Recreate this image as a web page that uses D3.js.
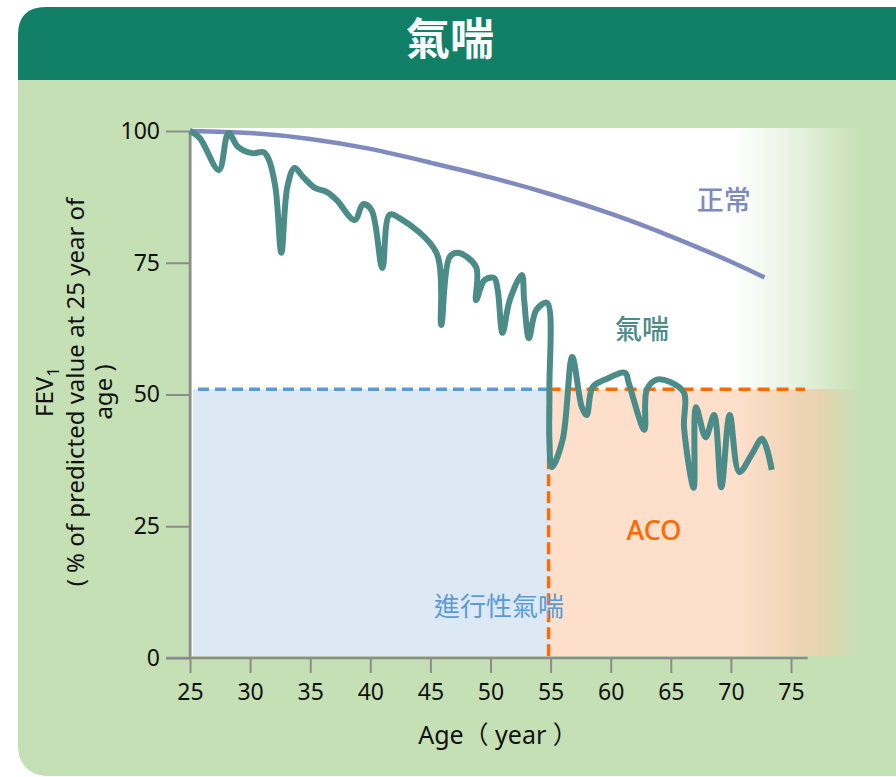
<!DOCTYPE html>
<html>
<head>
<meta charset="utf-8">
<script src="https://cdn.jsdelivr.net/npm/d3@7"></script>
<style>
  body { margin: 0; background: #ffffff; }
  svg text { font-family: "Noto Sans", "Noto Sans CJK TC", sans-serif; }
</style>
</head>
<body>
<div id="chart"></div>
<script>
// Chart data
var chartTitle = "氣喘";
var xTicks = [25, 30, 35, 40, 45, 50, 55, 60, 65, 70, 75];
var yTicks = [0, 25, 50, 75, 100];

// Normal decline of FEV1
var normalAge = [25, 30, 35, 40, 45, 50, 55, 60, 65, 70, 72.8];
var normalFev = [100, 99.6, 98.5, 96.6, 94.0, 91.2, 88.0, 84.3, 80.0, 75.2, 72.2];

// Asthma course of FEV1
var asthmaAge = [25.0, 25.8, 27.4, 28.2, 29.0, 30.2, 31.1, 31.5, 32.1, 32.6, 33.1, 33.7, 34.4, 35.4, 36.4, 37.2, 38.7, 39.4,
                 40.1, 41.0, 41.6, 42.4, 45.5, 45.9, 46.6, 47.3, 48.8, 48.8, 49.5, 50.3, 50.6, 51.0, 51.6, 52.6, 52.8, 53.2,
                 53.8, 54.7, 54.9, 54.9, 55.1, 56.0, 56.8, 57.6, 58.0, 58.5, 59.6, 61.2, 61.5, 62.8, 63.0, 63.8, 64.9, 66.1,
                 66.1, 66.9, 67.1, 67.9, 68.6, 69.2, 69.9, 70.7, 71.8, 72.6, 73.4];
var asthmaFev = [100, 98.7, 92.6, 99.6, 97.0, 95.8, 96.0, 94.9, 89.4, 76.9, 89.4, 93.0, 91.3, 89.2, 88.4, 86.9, 83.1, 86.1,
                 85.0, 74.0, 84.1, 83.5, 76.9, 63.2, 76.1, 76.9, 74.2, 67.9, 71.7, 72.1, 69.8, 61.7, 67.9, 72.7, 67.9, 60.7,
                 66.0, 67.4, 50.9, 41.4, 36.2, 41.4, 57.1, 47.6, 46.1, 51.4, 52.9, 54.1, 52.2, 43.3, 50.9, 52.8, 52.4, 50.3,
                 43.8, 32.3, 47.6, 41.9, 46.1, 32.4, 46.1, 35.3, 38.9, 41.6, 35.7];

// Threshold of ACO region
var acoFev = 51;
var acoAge = 55;

// Region labels
var labelNames = ["正常", "氣喘", "ACO", "進行性氣喘"];
var labelAge = [69.4, 62.6, 63.6, 50.7];
var labelFev = [86.4, 61.9, 23.7, 9.2];
var labelColors = ["#7f8abf", "#4b8c89", "#ff6a00", "#5b9bd5"];

var svgWidth = 896;
var svgHeight = 777;

var svg = d3.select("#chart")
  .append("svg")
  .attr("width", svgWidth)
  .attr("height", svgHeight);

var defs = svg.append("defs");

// Scales
var xScale = d3.scaleLinear()
               .domain([25, 75])
               .range([190, 791]);

var yScale = d3.scaleLinear()
               .domain([0, 100])
               .range([658, 131]);

// Background panel and header
svg.append("rect")
   .attr("x", 18)
   .attr("y", 7)
   .attr("width", 920)
   .attr("height", 769)
   .attr("rx", 28)
   .attr("fill", "#c5e0b4");

svg.append("path")
   .attr("d", "M18,80 V35 Q18,7 46,7 H896 V80 Z")
   .attr("fill", "#118067");

svg.append("text")
   .attr("x", 450)
   .attr("y", 43)
   .attr("text-anchor", "middle")
   .attr("dominant-baseline", "middle")
   .attr("fill", "#ffffff")
   .style("font-family", "'Noto Sans CJK TC', sans-serif")
   .style("font-weight", 700)
   .style("font-size", "44px")
   .text(chartTitle);

// Gradients fading to the panel colour on the right
var whiteGrad = defs.append("linearGradient")
                    .attr("id", "whiteFade")
                    .attr("gradientUnits", "userSpaceOnUse")
                    .attr("x1", 735).attr("x2", 862)
                    .attr("y1", 0).attr("y2", 0);
whiteGrad.append("stop").attr("offset", 0).attr("stop-color", "#ffffff");
whiteGrad.append("stop").attr("offset", 0.5).attr("stop-color", "#e6f1df");
whiteGrad.append("stop").attr("offset", 1).attr("stop-color", "#c5e0b4");

var orangeGrad = defs.append("linearGradient")
                     .attr("id", "orangeFade")
                     .attr("gradientUnits", "userSpaceOnUse")
                     .attr("x1", 740).attr("x2", 862)
                     .attr("y1", 0).attr("y2", 0);
orangeGrad.append("stop").attr("offset", 0).attr("stop-color", "#fddfcb");
orangeGrad.append("stop").attr("offset", 0.4).attr("stop-color", "#f1d6b8");
orangeGrad.append("stop").attr("offset", 0.65).attr("stop-color", "#e6d3ae");
orangeGrad.append("stop").attr("offset", 0.85).attr("stop-color", "#d3dcb4");
orangeGrad.append("stop").attr("offset", 1).attr("stop-color", "#c5e0b4");

// Plot area
svg.append("rect")
   .attr("x", xScale(25) + 2)
   .attr("y", yScale(100) - 3)
   .attr("width", 862 - xScale(25) - 2)
   .attr("height", yScale(0) - yScale(100) + 1)
   .attr("fill", "url(#whiteFade)");

// Progressive asthma region
svg.append("rect")
   .attr("x", xScale(25) + 3)
   .attr("y", yScale(acoFev))
   .attr("width", xScale(acoAge) - xScale(25) - 3)
   .attr("height", yScale(0) - yScale(acoFev) - 2)
   .attr("fill", "#dce9f5");

// ACO region
svg.append("rect")
   .attr("x", xScale(acoAge))
   .attr("y", yScale(acoFev))
   .attr("width", 862 - xScale(acoAge))
   .attr("height", yScale(0) - yScale(acoFev) - 2)
   .attr("fill", "url(#orangeFade)");

// Dashed threshold lines
svg.append("line")
   .attr("x1", xScale(25) + 8)
   .attr("x2", xScale(acoAge))
   .attr("y1", yScale(acoFev))
   .attr("y2", yScale(acoFev))
   .attr("stroke", "#5b9bd5")
   .attr("stroke-width", 3.5)
   .attr("stroke-dasharray", "11 6");

svg.append("line")
   .attr("x1", xScale(acoAge) - 2)
   .attr("x2", xScale(75) + 14)
   .attr("y1", yScale(acoFev))
   .attr("y2", yScale(acoFev))
   .attr("stroke", "#ff6a00")
   .attr("stroke-width", 3.5)
   .attr("stroke-dasharray", "12 7");

svg.append("line")
   .attr("x1", xScale(acoAge) - 2)
   .attr("x2", xScale(acoAge) - 2)
   .attr("y1", yScale(acoFev))
   .attr("y2", yScale(0))
   .attr("stroke", "#ff6a00")
   .attr("stroke-width", 3.5)
   .attr("stroke-dasharray", "12 5");

// Axes
var xAxis = d3.axisBottom(xScale)
              .tickValues(xTicks)
              .tickSize(15)
              .tickPadding(11);

var yAxis = d3.axisLeft(yScale)
              .tickValues(yTicks)
              .tickSize(24)
              .tickPadding(6);

var xAxisGroup = svg.append("g")
                    .attr("transform", `translate(0,${yScale(0)})`)
                    .call(xAxis);

var yAxisGroup = svg.append("g")
                    .attr("transform", `translate(${xScale(25)},0)`)
                    .call(yAxis);

[xAxisGroup, yAxisGroup].forEach(function(g) {
  g.select(".domain").remove();
  g.selectAll(".tick line").attr("stroke", "#8c8c8c").attr("stroke-width", 2);
  g.selectAll(".tick text")
   .attr("fill", "#111111")
   .style("font-size", "23px")
   .style("font-family", "'Noto Sans', sans-serif");
});

// Axis lines
svg.append("line")
   .attr("x1", xScale(25) - 24)
   .attr("x2", xScale(76.4))
   .attr("y1", yScale(0))
   .attr("y2", yScale(0))
   .attr("stroke", "#8c8c8c")
   .attr("stroke-width", 2.5);

svg.append("line")
   .attr("x1", xScale(25))
   .attr("x2", xScale(25))
   .attr("y1", yScale(100))
   .attr("y2", yScale(0))
   .attr("stroke", "#8c8c8c")
   .attr("stroke-width", 2.5);

// Axis titles
svg.append("text")
   .attr("x", 498)
   .attr("y", 744)
   .attr("text-anchor", "middle")
   .attr("fill", "#111111")
   .style("font-size", "25px")
   .text("Age（ year ）");

var yTitle = svg.append("text")
                .attr("transform", "translate(0,392) rotate(-90)")
                .attr("text-anchor", "middle")
                .attr("fill", "#111111")
                .style("font-size", "24px");

var firstLine = yTitle.append("tspan")
                      .attr("x", 0)
                      .attr("y", 53);
firstLine.append("tspan").text("FEV");
firstLine.append("tspan")
         .attr("dy", 6)
         .style("font-size", "17px")
         .text("1");

yTitle.append("tspan")
      .attr("x", 0)
      .attr("y", 84)
      .text("( % of predicted value at 25 year of");

yTitle.append("tspan")
      .attr("x", 0)
      .attr("y", 112)
      .text("age )");

// Lines
var lineGen = d3.line()
                .x(d => xScale(d[0]))
                .y(d => yScale(d[1]));

svg.append("path")
   .datum(d3.zip(normalAge, normalFev))
   .attr("d", lineGen.curve(d3.curveNatural))
   .attr("fill", "none")
   .attr("stroke", "#7f8abf")
   .attr("stroke-width", 4.5);

svg.append("path")
   .datum(d3.zip(asthmaAge, asthmaFev))
   .attr("d", lineGen.curve(d3.curveCatmullRom.alpha(0.5)))
   .attr("fill", "none")
   .attr("stroke", "#4b8c89")
   .attr("stroke-width", 6)
   .attr("stroke-linejoin", "round")
   .attr("stroke-linecap", "butt");

// Region labels
svg.selectAll(".region-label")
   .data(labelNames)
   .enter()
   .append("text")
   .attr("class", "region-label")
   .attr("x", (d, i) => xScale(labelAge[i]))
   .attr("y", (d, i) => yScale(labelFev[i]))
   .attr("text-anchor", "middle")
   .attr("dominant-baseline", "middle")
   .attr("fill", (d, i) => labelColors[i])
   .style("font-family", "'Noto Sans', 'Noto Sans CJK TC', sans-serif")
   .style("font-weight", (d, i) => i === 3 ? 400 : 500)
   .style("font-size", (d, i) => i === 3 ? "26px" : "27px")
   .text(d => d);

</script>
</body>
</html>
